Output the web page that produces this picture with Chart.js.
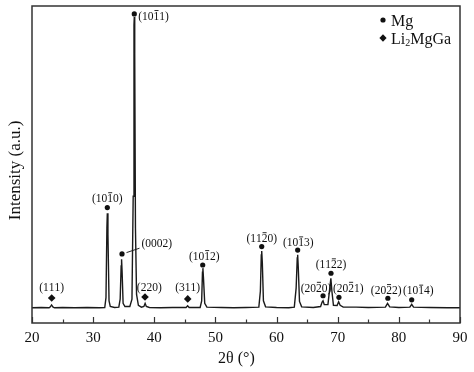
<!DOCTYPE html>
<html>
<head>
<meta charset="utf-8">
<script src="https://cdn.jsdelivr.net/npm/chart.js@4.4.0/dist/chart.umd.min.js"></script>
<style>
  html, body { margin: 0; padding: 0; background: #fff; }
  canvas { display: block; }
</style>
</head>
<body>
<canvas id="xrdChart" width="474" height="372"></canvas>
<script>
// XRD pattern (2θ in degrees, intensity in arbitrary units)
const twoTheta = [
  20, 21.5, 22.8, 23.0, 23.2, 23.45, 23.7, 25, 27, 29, 31, 31.9, 32.1, 32.25, 32.32, 32.42, 32.6, 32.8,
  33.5, 34.2, 34.42, 34.58, 34.65, 34.74, 34.9, 35.2, 36.0, 36.35, 36.55, 36.68, 36.73, 36.8, 36.92, 37.1,
  37.4, 37.9, 38.3, 38.5, 38.7, 39.2, 41, 43, 45.2, 45.45, 45.7, 47.5, 47.75, 47.88, 47.95, 48.05, 48.25,
  48.6, 51, 53, 55, 57.1, 57.35, 57.5, 57.57, 57.67, 57.85, 58.2, 60, 62, 62.9, 63.2, 63.38, 63.45, 63.55,
  63.75, 64.1, 66, 67.2, 67.45, 67.6, 67.8, 68.4, 68.7, 68.88, 69.05, 69.3, 69.9, 70.15, 70.4, 70.9, 73,
  75, 77.8, 78.15, 78.5, 80, 81.8, 82.1, 82.4, 85, 88, 90
];
const intensity = [
  48, 49, 48, 51, 57, 50, 48, 49, 48, 49, 48, 49, 80, 300, 346, 280, 70, 52,
  49, 50, 75, 180, 201, 160, 62, 52, 52, 75, 400, 940, 965, 850, 300, 90,
  56, 50, 52, 62, 52, 49, 48, 49, 49, 54, 49, 49, 70, 160, 173, 140, 62,
  50, 49, 48, 49, 50, 100, 215, 227, 190, 70, 51, 49, 48, 50, 110, 205, 215, 175,
  68, 51, 49, 52, 66, 70, 58, 58, 110, 141, 100, 56, 55, 67, 56, 50, 50,
  49, 50, 62, 51, 49, 50, 59, 50, 49, 48, 48
];

// Phase markers
const mgAngle = [36.73, 32.32, 34.72, 47.92, 57.57, 63.45, 67.6, 68.9, 70.2, 78.2, 82.1];
const mgHeight = [975, 364, 218, 183, 241, 230, 86, 157, 81, 78, 73];
const mgLabels = ['(10-11)', '(10-10)', '(0002)', '(10-12)', '(11-20)', '(10-13)', '(20-20)', '(11-22)', '(20-21)', '(20-22)', '(10-14)'];

const ligaAngle = [23.22, 38.48, 45.47];
const ligaHeight = [79, 82, 76];
const ligaLabels = ['(111)', '(220)', '(311)'];

const xTicks = [20, 30, 40, 50, 60, 70, 80, 90];

// label offsets in pixels from the marker [dx, dy, align]
const mgLabelPos = [[4, 2, 'left'], [0, -9.5, 'center'], [19.5, -10.7, 'left'], [1.6, -9, 'center'],
  [0, -8.5, 'center'], [0.6, -7.8, 'center'], [-7, -8, 'center'], [0, -9, 'center'],
  [9.3, -9.6, 'center'], [-1.7, -8.3, 'center'], [6.6, -9.3, 'center']];
const ligaLabelPos = [[0, -10.7, 'center'], [4.3, -10.3, 'center'], [0, -11.3, 'center']];

const serif = '"Liberation Serif", "DejaVu Serif", serif';

// draws a Miller index; a "-" puts a bar over the next digit
const drawIndex = (ctx, text, x, y, align, size) => {
  ctx.font = size + 'px ' + serif;
  ctx.textBaseline = 'alphabetic';
  ctx.textAlign = 'left';
  const chars = [];
  let bar = false;
  for (const c of text) {
    if (c === '-') { bar = true; continue; }
    chars.push({ c, bar });
    bar = false;
  }
  const total = chars.reduce((s, o) => s + ctx.measureText(o.c).width, 0);
  let cx = align === 'left' ? x : x - total / 2;
  const base = y + size * 0.33;
  chars.forEach(o => {
    const w = ctx.measureText(o.c).width;
    ctx.fillText(o.c, cx, base);
    if (o.bar) {
      ctx.beginPath();
      ctx.lineWidth = 0.9;
      ctx.moveTo(cx + w * 0.15, base - size * 0.8);
      ctx.lineTo(cx + w * 0.85, base - size * 0.8);
      ctx.stroke();
    }
    cx += w;
  });
};

const decorations = {
  id: 'decorations',
  afterDraw(chart) {
    const { ctx, chartArea: a, scales: { x, y } } = chart;
    ctx.save();
    ctx.strokeStyle = '#333';
    ctx.fillStyle = '#111';

    // frame
    ctx.lineWidth = 1.5;
    ctx.strokeRect(a.left, a.top, a.right - a.left, a.bottom - a.top);

    // inward ticks on the bottom axis
    ctx.lineWidth = 1.2;
    for (let v = 20; v <= 90; v += 5) {
      const px = Math.round(x.getPixelForValue(v)) + 0.5;
      const len = v % 10 === 0 ? 6 : 3.5;
      ctx.beginPath();
      ctx.moveTo(px, a.bottom);
      ctx.lineTo(px, a.bottom - len);
      ctx.stroke();
    }

    // peak labels
    ctx.strokeStyle = '#111';
    mgLabels.forEach((t, i) => {
      const px = x.getPixelForValue(mgAngle[i]);
      const py = y.getPixelForValue(mgHeight[i]);
      const [dx, dy, al] = mgLabelPos[i];
      drawIndex(ctx, t, px + dx, py + dy, al, 11.5);
    });
    ligaLabels.forEach((t, i) => {
      const px = x.getPixelForValue(ligaAngle[i]);
      const py = y.getPixelForValue(ligaHeight[i]);
      const [dx, dy, al] = ligaLabelPos[i];
      drawIndex(ctx, t, px + dx, py + dy, al, 11.5);
    });

    // leader line for (0002)
    const lx = x.getPixelForValue(mgAngle[2]);
    const ly = y.getPixelForValue(mgHeight[2]);
    ctx.lineWidth = 0.9;
    ctx.beginPath();
    ctx.moveTo(lx + 4.5, ly - 1.3);
    ctx.lineTo(lx + 17.5, ly - 5.7);
    ctx.stroke();

    // legend
    ctx.beginPath();
    ctx.arc(383, 20, 2.6, 0, Math.PI * 2);
    ctx.fill();
    ctx.beginPath();
    ctx.moveTo(383, 34.2); ctx.lineTo(386.6, 38); ctx.lineTo(383, 41.8); ctx.lineTo(379.4, 38);
    ctx.closePath();
    ctx.fill();
    ctx.font = '16px ' + serif;
    ctx.textAlign = 'left';
    ctx.textBaseline = 'alphabetic';
    ctx.fillText('Mg', 391, 25.5);
    ctx.fillText('Li', 391, 43.5);
    let lw = ctx.measureText('Li').width;
    ctx.font = '10px ' + serif;
    ctx.fillText('2', 391 + lw, 46);
    lw += ctx.measureText('2').width;
    ctx.font = '16px ' + serif;
    ctx.fillText('MgGa', 391 + lw, 43.5);

    ctx.restore();
  }
};

document.addEventListener('DOMContentLoaded', () => {
  const ctx = document.getElementById('xrdChart').getContext('2d');

  new Chart(ctx, {
    type: 'line',
    data: {
      datasets: [
        {
          type: 'scatter',
          data: mgAngle.map((v, i) => ({ x: v, y: mgHeight[i] })),
          pointStyle: 'circle',
          pointRadius: 2.6,
          backgroundColor: '#111',
          borderWidth: 0
        },
        {
          type: 'scatter',
          data: ligaAngle.map((v, i) => ({ x: v, y: ligaHeight[i] })),
          pointStyle: 'rectRot',
          pointRadius: 3.8,
          backgroundColor: '#111',
          borderWidth: 0
        },
        {
          data: twoTheta.map((v, i) => ({ x: v, y: intensity[i] })),
          borderColor: '#1a1a1a',
          borderWidth: 1.4,
          pointRadius: 0,
          tension: 0,
          fill: false
        }
      ]
    },
    options: {
      responsive: false,
      animation: false,
      layout: { padding: { top: 6, right: 14, left: 0, bottom: 0 } },
      plugins: {
        legend: { display: false },
        tooltip: { enabled: false }
      },
      scales: {
        x: {
          type: 'linear',
          min: 20,
          max: 90,
          afterBuildTicks: s => { s.ticks = xTicks.map(v => ({ value: v })); },
          afterFit: s => { s.height = 49; },
          grid: { display: false, drawTicks: false },
          border: { display: false },
          ticks: {
            padding: 6,
            color: '#111',
            font: { family: serif, size: 15 }
          },
          title: {
            display: true,
            text: '2θ (°)\u2003\u2009',
            color: '#111',
            padding: { top: 0, bottom: 3.5 },
            font: { family: serif, size: 16 }
          }
        },
        y: {
          min: 0,
          max: 1000,
          afterFit: s => { s.width = 32; },
          grid: { display: false, drawTicks: false },
          border: { display: false },
          ticks: { display: false },
          title: {
            display: true,
            text: 'Intensity (a.u.)\u2002\u2009',
            color: '#111',
            padding: { top: 5, bottom: 0 },
            font: { family: serif, size: 17 }
          }
        }
      }
    },
    plugins: [decorations]
  });
});
</script>
</body>
</html>
